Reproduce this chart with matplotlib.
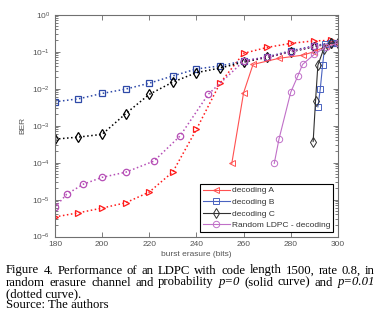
import numpy as np
import matplotlib
matplotlib.use('Agg')
import matplotlib.pyplot as plt

plt.rcParams['font.family'] = ['Liberation Sans', 'DejaVu Sans']
plt.rcParams['mathtext.fontset'] = 'custom'
plt.rcParams['mathtext.rm'] = 'Liberation Sans'
plt.rcParams['mathtext.default'] = 'regular'

# p = 0.01 (dotted curves)
x_dot_a = [180, 190, 200, 210, 220, 230, 240, 250, 260, 270, 280, 290, 297]
ber_dot_a = [3.4e-6, 4.4e-6, 5.9e-6, 8.2e-6, 1.6e-5, 5.6e-5, 7.9e-4, 1.4e-2, 9e-2, 0.13, 0.167, 0.196, 0.2]
x_dot_b = [180, 190, 200, 210, 220, 230, 240, 250, 260, 270, 280, 290, 297, 300]
ber_dot_b = [4.4e-3, 5.3e-3, 7.4e-3, 9.7e-3, 1.4e-2, 2.2e-2, 3.4e-2, 4.1e-2, 5.6e-2, 7.2e-2, 0.105, 0.144, 0.173, 0.173]
x_dot_c = [180, 190, 200, 210, 220, 230, 240, 250, 260, 270, 280, 290, 297, 300]
ber_dot_c = [4.3e-4, 4.9e-4, 5.8e-4, 2.1e-3, 7e-3, 1.5e-2, 2.7e-2, 3.6e-2, 5.2e-2, 7e-2, 9.9e-2, 0.135, 0.17, 0.17]
x_dot_r = [180, 185, 192, 200, 210, 222, 233, 245, 260, 270, 280, 290, 297, 300]
ber_dot_r = [6.2e-6, 1.4e-5, 2.6e-5, 4e-5, 5.5e-5, 1.1e-4, 5.2e-4, 7e-3, 5.5e-2, 7.2e-2, 0.1, 0.14, 0.17, 0.17]

# p = 0 (solid curves)
x_sol_a = [255, 260, 264, 275, 285, 290, 295, 300]
ber_sol_a = [9.5e-5, 7.7e-3, 4.5e-2, 6.6e-2, 8e-2, 0.1, 0.14, 0.17]
x_sol_b = [291.5, 292.5, 293.5, 294.5, 297, 300]
ber_sol_b = [3.2e-3, 9.5e-3, 4.3e-2, 0.157, 0.17, 0.17]
x_sol_c = [289.5, 290.5, 291.5, 294, 297, 300]
ber_sol_c = [3.7e-4, 4.6e-3, 4.3e-2, 0.12, 0.17, 0.17]
x_sol_r = [273, 275, 280, 283, 285, 290, 295, 300]
ber_sol_r = [9.5e-5, 4.3e-4, 8e-3, 2.2e-2, 4.5e-2, 8.5e-2, 0.135, 0.17]

labels = ['decoding A', 'decoding B', 'decoding C', 'Random LDPC - decoding']
xticks = [180, 200, 220, 240, 260, 280, 300]
yticks = [1e-6, 1e-5, 1e-4, 1e-3, 1e-2, 1e-1, 1e0]
ytick_labels = ['$10^{-6}$', '$10^{-5}$', '$10^{-4}$', '$10^{-3}$', '$10^{-2}$', '$10^{-1}$', '$10^{0}$']

red, blue, black, mag = '#ff1a1a', '#2f4aa8', '#000000', '#b64fb6'

fig = plt.figure(figsize=(3.84, 3.25), dpi=100)
ax = fig.add_axes([0.143, 0.272, 0.737, 0.683])

ms = 4.6
kw_dot = dict(ls=':', lw=1.1, mfc='none', ms=ms, mew=0.9)
ax.plot(x_dot_a, ber_dot_a, color=red, marker='>', **kw_dot)
ax.plot(x_dot_b, ber_dot_b, color=blue, marker='s', **kw_dot)
ax.plot(x_dot_c, ber_dot_c, color=black, marker='d', **kw_dot)
ax.plot(x_dot_r, ber_dot_r, color=mag, marker='o', **kw_dot)

kw_sol = dict(ls='-', lw=0.8, mfc='none', ms=ms, mew=0.7)
ha, = ax.plot(x_sol_a, ber_sol_a, color='#ff5050', marker='<', **kw_sol)
hb, = ax.plot(x_sol_b, ber_sol_b, color='#4a63c0', marker='s', **kw_sol)
hc, = ax.plot(x_sol_c, ber_sol_c, color='#303030', marker='d', **kw_sol)
hr, = ax.plot(x_sol_r, ber_sol_r, color='#c070c8', marker='o', **kw_sol)

ax.set_yscale('log')
ax.set_xlim(180, 300)
ax.set_ylim(1e-6, 1e0)
ax.set_xticks(xticks)
ax.set_yticks(yticks)
ax.set_yticklabels(ytick_labels)
ax.tick_params(which='both', direction='in', top=True, right=True, colors='#666666',
               labelsize=6, labelcolor='#555555', width=0.6)
ax.tick_params(which='major', length=3.5)
ax.tick_params(which='minor', length=2)
for s in ax.spines.values():
    s.set_color('#707070')
    s.set_linewidth(0.8)

ax.set_xlabel('burst erasure (bits)', fontsize=6, color='#555555', labelpad=2)
ax.set_ylabel('BER', fontsize=6, color='#555555', labelpad=4)

leg = ax.legend([ha, hb, hc, hr], labels, loc='lower right', bbox_to_anchor=(0.983, 0.022),
                borderaxespad=0, fontsize=6, handlelength=3.2, labelspacing=0.45,
                fancybox=False, framealpha=1, edgecolor='black', borderpad=0.3,
                handletextpad=0.3)
leg.get_frame().set_linewidth(0.8)
for t in leg.get_texts():
    t.set_color('#333333')

# caption (justified lines)
cap_font = ['Liberation Serif', 'DejaVu Serif']
cap_size = 9.2
renderer = fig.canvas.get_renderer()
W, H = 384.0, 325.0

def justified(words, y_px, left=6, right=375):
    arts = []
    for w, it in words:
        t = fig.text(0, 1 - y_px / H, w, family=cap_font, size=cap_size,
                     style='italic' if it else 'normal', va='baseline', ha='left')
        arts.append(t)
    widths = [a.get_window_extent(renderer).width for a in arts]
    gap = (right - left - sum(widths)) / (len(arts) - 1)
    x = left
    for a, w in zip(arts, widths):
        a.set_x(x / W)
        x += w + gap

line1 = 'Figure 4. Performance of an LDPC with code length 1500, rate 0.8, in'
justified([(w, False) for w in line1.split()], 273.5)
line2 = [('random', False), ('erasure', False), ('channel', False), ('and', False),
         ('probability', False), ('p=0', True), ('(solid', False), ('curve)', False),
         ('and', False), ('p=0.01', True)]
justified(line2, 285.5)
fig.text(6 / W, 1 - 297 / H, '(dotted curve).', family=cap_font, size=cap_size, va='baseline')
fig.text(6 / W, 1 - 308.5 / H, 'Source: The authors', family=cap_font, size=cap_size, va='baseline')

fig.savefig('out.png', dpi=100)
